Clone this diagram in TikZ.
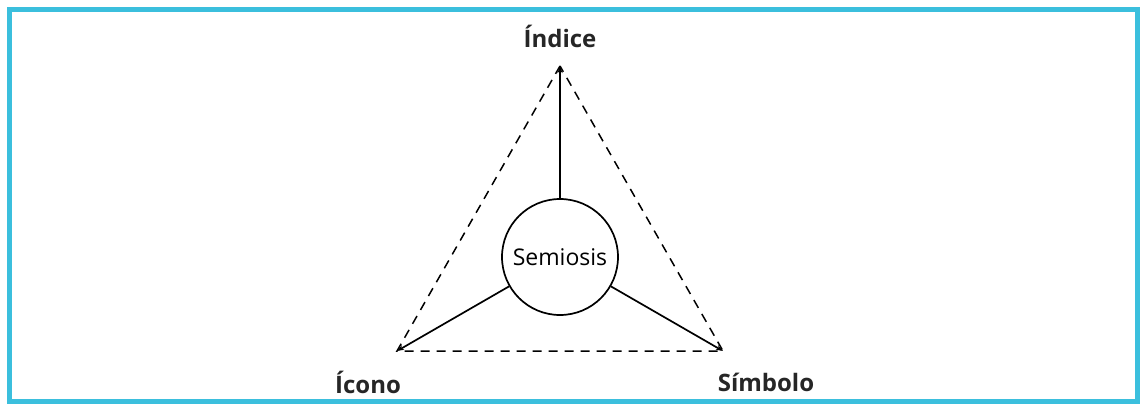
\documentclass[tikz,border=0pt]{standalone}
\usepackage{fontspec}
\setmainfont{Open Sans}
\usetikzlibrary{arrows.meta}
\definecolor{frame}{RGB}{59,191,221}
\tikzset{
  link/.style={line width=1.7pt,-{Stealth[length=7pt,width=5pt]}},
  dashedge/.style={line width=1.5pt,dash pattern=on 9pt off 7pt},
  lbl/.style={font=\bfseries\fontsize{24}{28}\selectfont,text=black!85}
}
\begin{document}
\begin{tikzpicture}[x=1pt,y=-1pt]
\useasboundingbox (0,0) rectangle (1146,408);
\draw[frame,line width=5pt] (9.5,9.5) rectangle (1137.5,401.5);
\coordinate (top) at (560,66);
\coordinate (bl) at (397,351);
\coordinate (br) at (723,351);
\node[circle,draw,line width=1.7pt,minimum size=116pt,inner sep=0pt,font=\fontsize{23}{27}\selectfont] (sem) at (560,257) {Semiosis};
\draw[link] (sem) -- (top);
\draw[link] (sem) -- (bl);
\draw[link] (sem) -- (br);
\draw[dashedge] (top) -- (bl) -- (br) -- cycle;
\node[lbl] (ind) at (560,36) {Índice};
\node[lbl] (ico) at (368,382) {Ícono};
\node[lbl] (sim) at (766,382) {Símbolo};
\end{tikzpicture}
\end{document}
